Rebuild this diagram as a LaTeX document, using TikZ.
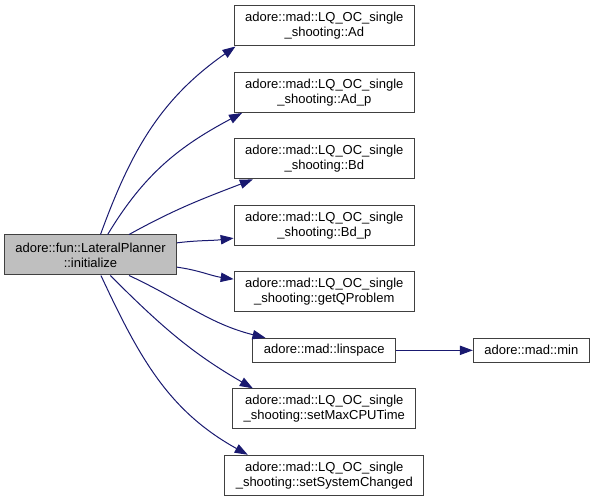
\documentclass[tikz,border=0pt]{standalone}
\usepackage{fontspec}
\setmainfont{Liberation Sans}
\usepackage{tikz}
\usetikzlibrary{arrows.meta,positioning}
\definecolor{EdgeBlue}{RGB}{25,25,112}
\definecolor{BoxLine}{RGB}{64,64,64}
\definecolor{BoxGray}{RGB}{191,191,191}
\tikzset{
  fnode/.style     ={rectangle, draw=BoxLine, line width=.75pt, fill=white, text=black,
                     align=center, font=\fontsize{9.75}{11.25}\selectfont,
                     inner xsep=8.25pt, inner ysep=1pt, minimum height=30pt},
  fnodegray/.style ={fnode, fill=BoxGray},
  fnodeflat/.style ={fnode, minimum height=18pt},
  edge/.style      ={-{Triangle[length=9.75pt,width=7pt]}, draw=EdgeBlue, line width=.75pt},
}
\begin{document}
\begin{tikzpicture}[x=0.75pt,y=0.75pt,node distance=19.1pt]
  \useasboundingbox (0,0) rectangle (595,496);

  \node[fnodegray] (init) at (90.5,241) {adore::fun::LateralPlanner\\::initialize};

  \node[fnode] (ad) at (324.3,470) {adore::mad::LQ\_OC\_single\\\_shooting::Ad};
  \node[fnode,below=of ad]      (adp)    {adore::mad::LQ\_OC\_single\\\_shooting::Ad\_p};
  \node[fnode,below=of adp]     (bd)     {adore::mad::LQ\_OC\_single\\\_shooting::Bd};
  \node[fnode,below=of bd]      (bdp)    {adore::mad::LQ\_OC\_single\\\_shooting::Bd\_p};
  \node[fnode,below=of bdp]     (getq)   {adore::mad::LQ\_OC\_single\\\_shooting::getQProblem};
  \node[fnodeflat,below=of getq] (lin)   {adore::mad::linspace};
  \node[fnode,below=of lin]     (setmax) {adore::mad::LQ\_OC\_single\\\_shooting::setMaxCPUTime};
  \node[fnode,below=of setmax]  (setsys) {adore::mad::LQ\_OC\_single\\\_shooting::setSystemChanged};
  \node[fnodeflat,right=57.5pt of lin] (minv) {adore::mad::min};

  % calls from initialize
  \foreach \dst/\sa/\ea/\o/\i in {ad/64.6/193.8/70/215, adp/50.5/194.7/59/208,
      bd/28.1/196.1/29/201, bdp/8/188.8/7/187, getq/352/172.5/352/172,
      lin/332/168/335/166, setmax/314.3/164.7/315/150, setsys/297.7/165.4/295/151}
    {\draw[edge] (init.\sa) to[out=\o,in=\i] (\dst.\ea);}

  \draw[edge] (lin) -- (minv);
\end{tikzpicture}
\end{document}
